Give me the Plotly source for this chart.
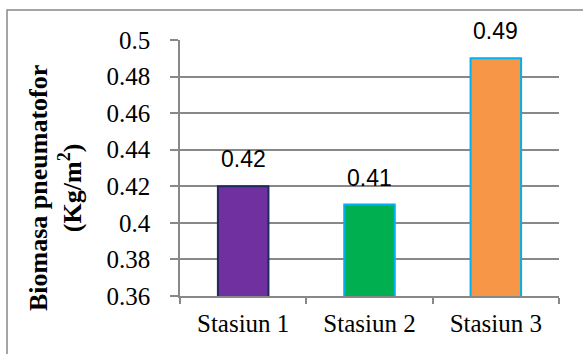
import plotly.graph_objects as go

categories = ["Stasiun 1", "Stasiun 2", "Stasiun 3"]
values = [0.42, 0.41, 0.49]
value_labels = ["0.42", "0.41", "0.49"]
fill_colors = ["#7030A0", "#00B050", "#F79646"]
line_colors = ["#1F2A5C", "#00B0F0", "#00B0F0"]
y_ticks = [0.36, 0.38, 0.4, 0.42, 0.44, 0.46, 0.48, 0.5]
y_tick_text = ["0.36", "0.38", "0.4", "0.42", "0.44", "0.46", "0.48", "0.5"]
y_title = "<b>Biomasa pneumatofor<br>(Kg/m<sup>2</sup>)</b>"

grid_col = "#888888"
serif = "Liberation Serif"

fig = go.Figure()
fig.add_trace(go.Bar(
    x=categories,
    y=values,
    width=0.4,
    marker=dict(color=fill_colors, line=dict(color=line_colors, width=2)),
    showlegend=False,
))

for c, v, t in zip(categories, values, value_labels):
    fig.add_annotation(x=c, y=v, text=t, showarrow=False, yanchor="bottom",
                       yshift=12, font=dict(family="Liberation Sans", size=23, color="#000000"))

# y-axis title placed as rotated annotation
fig.add_annotation(xref="paper", yref="paper", x=(55 - 180) / 379, y=(296 - 188) / 256,
                   text=y_title, textangle=-90, showarrow=False,
                   xanchor="center", yanchor="middle",
                   font=dict(family=serif, size=26, color="#000000"))

fig.update_layout(
    width=583, height=354,
    margin=dict(l=180, r=24, t=40, b=58),
    paper_bgcolor="white", plot_bgcolor="white",
    font=dict(family=serif, size=25, color="#000000"),
    bargap=0.6,
    xaxis=dict(
        type="category",
        showline=True, linecolor=grid_col, linewidth=1.5,
        ticks="outside", tickson="boundaries", ticklen=6, tickcolor=grid_col, tickwidth=1.5,
        tickfont=dict(family=serif, size=25, color="#000000"),
        ticklabelstandoff=4,
        showgrid=False,
    ),
    yaxis=dict(
        range=[0.36, 0.5],
        tickmode="array",
        tickvals=y_ticks, ticktext=y_tick_text,
        showline=True, linecolor=grid_col, linewidth=1.5,
        ticks="outside", ticklen=8, tickcolor=grid_col, tickwidth=1.5,
        ticklabelstandoff=15,
        showgrid=True, gridcolor=grid_col, gridwidth=1.5,
        zeroline=False,
        tickfont=dict(family=serif, size=25, color="#000000"),
    ),
)

# outer chart border
fig.add_shape(type="rect", xref="paper", yref="paper",
              x0=(7 - 180) / 379, x1=1.2, y0=-0.4, y1=(296 - 10) / 256,
              line=dict(color="#888888", width=1.5), fillcolor="rgba(0,0,0,0)", layer="below")

fig.write_html("out.html", config={"displayModeBar": False},
               post_script="document.body.style.margin='0';document.body.style.padding='0';")
